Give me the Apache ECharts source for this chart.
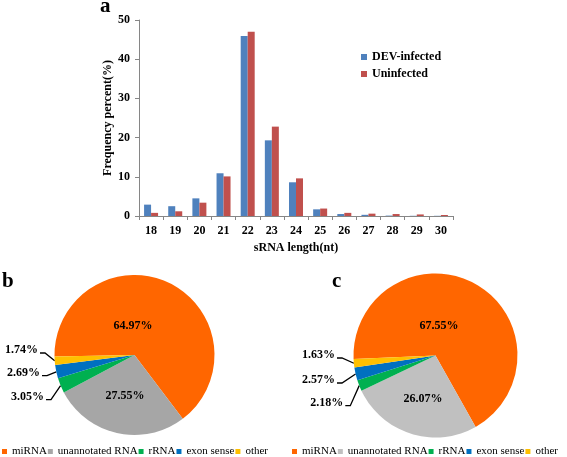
<!DOCTYPE html>
<html><head><meta charset="utf-8">
<script src="https://cdn.jsdelivr.net/npm/echarts@6/dist/echarts.min.js"></script>
<style>html,body{margin:0;padding:0;background:#fff}#c{width:567px;height:457px}</style>
</head><body><div id="c"></div>
<script>
// ---- data ----
const lengths = ['18','19','20','21','22','23','24','25','26','27','28','29','30'];
const devInfected = [2.9, 2.5, 4.5, 10.9, 45.9, 19.3, 8.6, 1.7, 0.5, 0.3, 0.1, 0.05, 0.05];
const uninfected  = [0.8, 1.2, 3.4, 10.1, 47.0, 22.8, 9.6, 1.9, 0.8, 0.6, 0.5, 0.4, 0.25];
const yMin = 0, yMax = 50, yStep = 10;
const rnaClasses = ['miRNA', 'unannotated RNA', 'rRNA', 'exon sense', 'other'];
const pieB = [64.97, 27.55, 3.05, 2.69, 1.74];
const pieC = [67.55, 26.07, 2.18, 2.57, 1.63];

// ---- style ----
const FONT = 'Liberation Serif';
const colorsB = ['#FF6600', '#A6A6A6', '#00B050', '#0070C0', '#FFC000'];
const colorsC = ['#FF6600', '#C0C0C0', '#00B050', '#0070C0', '#FFC000'];
const pieGeom = {
  b: {cx: 134.5, cy: 355, r: 80, start: 181,
      lab: [[-1.5, -29], [-9.5, 41], [-90.5, 41.7], [-94.5, 17.7], [-96.5, -5]]},
  c: {cx: 435.5, cy: 355.5, r: 82, start: 182.5,
      lab: [[3.5, -29.5], [-12.5, 43.5], [-92.2, 47.2], [-100.5, 24.5], [-100.5, -0.5]]}
};

function buildPie(values, colors, g) {
  const total = values.reduce((a, b) => a + b, 0);
  const mids = [];
  let cum = 0;
  values.forEach(v => { mids.push(g.start - (cum + v / 2) / total * 360); cum += v; });
  return {
    type: 'pie',
    center: [g.cx, g.cy],
    radius: g.r,
    startAngle: g.start,
    clockwise: true,
    avoidLabelOverlap: false,
    silent: true,
    itemStyle: {borderWidth: 0},
    label: {fontFamily: FONT, fontWeight: 'bold', fontSize: 12, color: '#000',
            formatter: p => p.value.toFixed(2) + '%'},
    labelLine: {lineStyle: {color: '#000', width: 1.3}},
    data: values.map((v, i) => ({
      name: rnaClasses[i], value: v,
      itemStyle: {color: colors[i]},
      label: {position: i < 2 ? 'inside' : 'outside'},
      labelLine: {show: i >= 2}
    })),
    labelLayout: function (p) {
      const i = p.dataIndex;
      const x = g.cx + g.lab[i][0], y = g.cy + g.lab[i][1];
      if (i < 2) return {x: x, y: y, align: 'center', verticalAlign: 'middle'};
      const a = mids[i] * Math.PI / 180;
      const edge = [g.cx + g.r * Math.cos(a), g.cy - g.r * Math.sin(a)];
      return {x: x, y: y, align: 'right', verticalAlign: 'middle',
              labelLinePoints: [edge, [x + 7, y + 3], [x + 2, y + 3]]};
    }
  };
}

const legendText = {fontFamily: FONT, fontSize: 11, color: '#000'};
function pieLegend(left, colors) {
  return {
    left: left, top: 446, orient: 'horizontal', icon: 'rect',
    itemWidth: 5, itemHeight: 5, itemGap: 1, padding: 0,
    textStyle: legendText,
    data: rnaClasses.map((n, i) => ({name: n, itemStyle: {color: colors[i]}, textStyle: legendText}))
  };
}

const panelTitle = {fontFamily: FONT, fontSize: 21, fontWeight: 'bold', color: '#000'};
const chart = echarts.init(document.getElementById('c'), null, {renderer: 'canvas'});
chart.setOption({
  animation: false,
  backgroundColor: '#fff',
  textStyle: {fontFamily: FONT},
  title: [
    {text: 'a', left: 100, top: -4, padding: 0, textStyle: panelTitle},
    {text: 'b', left: 2, top: 271, padding: 0, textStyle: panelTitle},
    {text: 'c', left: 332, top: 271, padding: 0, textStyle: panelTitle}
  ],
  legend: [
    {left: 361, top: 51, orient: 'vertical', icon: 'rect', itemWidth: 6, itemHeight: 6,
     itemGap: 5, padding: 0,
     textStyle: {fontFamily: FONT, fontSize: 12, fontWeight: 'bold', color: '#000'},
     data: ['DEV-infected', 'Uninfected']},
    pieLegend(2, colorsB),
    pieLegend(292, colorsC)
  ],
  grid: {left: 139, right: 114, top: 20, bottom: 241, containLabel: false},
  xAxis: {
    type: 'category', data: lengths,
    name: 'sRNA length(nt)', nameLocation: 'middle', nameGap: 26,
    nameTextStyle: {fontFamily: FONT, fontSize: 12, fontWeight: 'bold', color: '#000'},
    axisLine: {lineStyle: {color: '#868686', width: 1}},
    axisTick: {show: true, length: 4, alignWithLabel: false, lineStyle: {color: '#868686'}},
    axisLabel: {fontFamily: FONT, fontSize: 12, fontWeight: 'bold', color: '#000', margin: 9, interval: 0}
  },
  yAxis: {
    type: 'value', min: yMin, max: yMax, interval: yStep,
    name: 'Frequency percent(%)', nameLocation: 'middle', nameGap: 25, nameRotate: 90,
    nameMoveOverlap: false,
    nameTextStyle: {fontFamily: FONT, fontSize: 12, fontWeight: 'bold', color: '#000'},
    axisLine: {show: true, lineStyle: {color: '#868686', width: 1}},
    axisTick: {show: true, length: 4, lineStyle: {color: '#868686'}},
    splitLine: {show: false},
    axisLabel: {fontFamily: FONT, fontSize: 12, fontWeight: 'bold', color: '#000', margin: 9}
  },
  series: [
    {type: 'bar', name: 'DEV-infected', data: devInfected, barWidth: 7, barGap: '0%',
     itemStyle: {color: '#4F81BD'}, silent: true},
    {type: 'bar', name: 'Uninfected', data: uninfected, barWidth: 7, barGap: '0%',
     itemStyle: {color: '#C0504D'}, silent: true},
    buildPie(pieB, colorsB, pieGeom.b),
    buildPie(pieC, colorsC, pieGeom.c)
  ]
});
</script></body></html>
